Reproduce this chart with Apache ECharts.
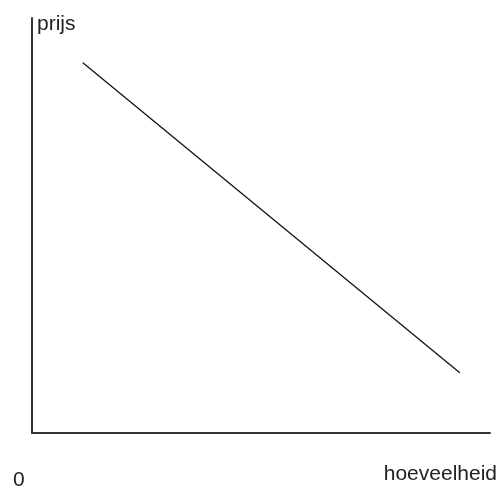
<!DOCTYPE html>
<html><head><meta charset="utf-8">
<script src="https://cdn.jsdelivr.net/npm/echarts@6/dist/echarts.min.js"></script>
<style>html,body{margin:0;padding:0;background:#fff}#c{width:499px;height:488px}</style>
</head><body><div id="c"></div>
<script>
var xValues = [11.1, 93.4];
var yValues = [89.2, 14.5];
var xLabel = 'hoeveelheid';
var yLabel = 'prijs';
var originLabel = '0';

var chart = echarts.init(document.getElementById('c'), null, {renderer: 'canvas'});
var font = 'Liberation Sans, Arial, sans-serif';
chart.setOption({
  animation: false,
  backgroundColor: '#fff',
  grid: {left: 32, right: 9, top: 18, bottom: 55},
  xAxis: {type: 'value', min: 0, max: 100,
    axisLine: {show: true, lineStyle: {color: '#333', width: 2}},
    axisTick: {show: false}, axisLabel: {show: false}, splitLine: {show: false}},
  yAxis: {type: 'value', min: 0, max: 100,
    name: yLabel, nameLocation: 'end', nameGap: 0,
    nameTextStyle: {align: 'left', verticalAlign: 'top', color: '#222', fontSize: 21, fontFamily: font, padding: [-4, 0, 0, 5]},
    axisLine: {show: true, lineStyle: {color: '#333', width: 2}},
    axisTick: {show: false}, axisLabel: {show: false}, splitLine: {show: false}},
  graphic: [
    {type: 'text', right: 2, top: 464, style: {text: xLabel, fill: '#222', font: '21px ' + font}},
    {type: 'text', left: 13, top: 470, style: {text: originLabel, fill: '#222', font: '21px ' + font}}
  ],
  series: [{
    type: 'line', data: xValues.map(function (x, i) { return [x, yValues[i]]; }),
    symbol: 'none', lineStyle: {color: '#111', width: 1.3}
  }]
});
</script></body></html>
